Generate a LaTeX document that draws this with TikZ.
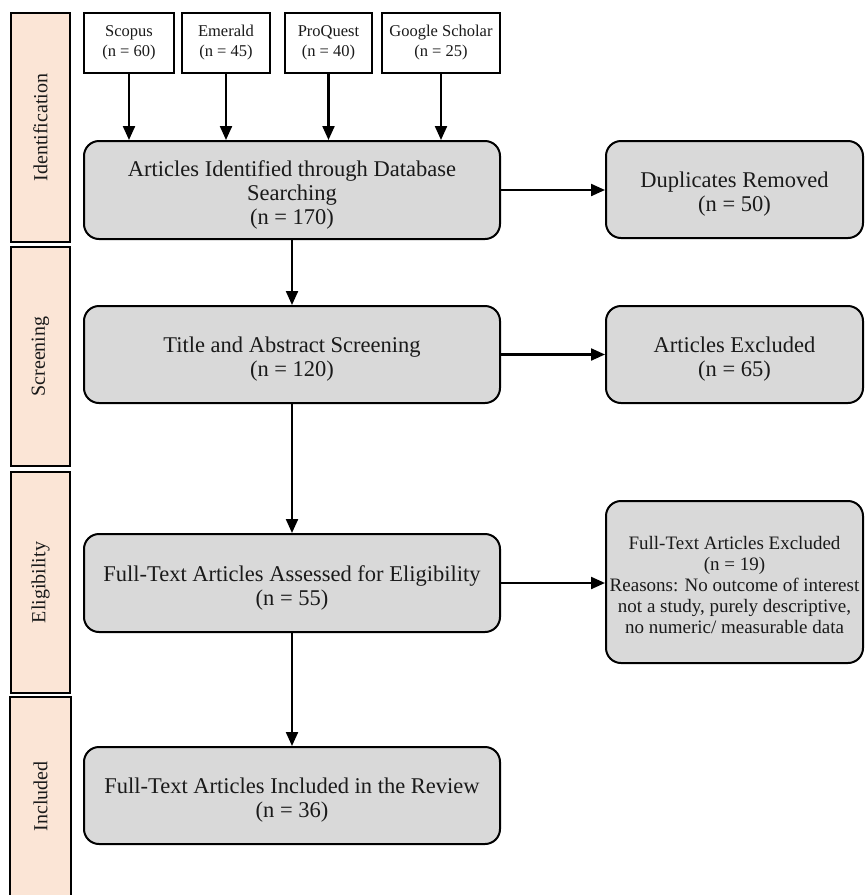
\documentclass[tikz,border=0pt]{standalone}
\usepackage{fontspec}
\setmainfont{Liberation Serif}
\usetikzlibrary{arrows.meta}
\definecolor{phasefill}{HTML}{FBE5D6}
\definecolor{boxfill}{HTML}{D9D9D9}
\definecolor{txt}{HTML}{1A1A1A}
\newcommand{\topstrut}[1]{\rule{0pt}{#1}}
\begin{document}
\begin{tikzpicture}[x=1pt,y=-1pt,
  phase/.style={draw, line width=2pt, fill=phasefill, rotate=90, minimum height=59pt, inner sep=0pt, text=txt, font=\fontsize{20}{24}\selectfont},
  src/.style={draw, line width=2pt, fill=white, inner sep=0pt, minimum height=60pt, align=center, text=txt, font=\fontsize{16.5}{20}\selectfont},
  stage/.style={draw, line width=2pt, fill=boxfill, rounded corners=15pt, inner sep=0pt, minimum width=416pt, align=center, text=txt, font=\fontsize{22.5}{24}\selectfont},
  side/.style={stage, minimum width=257pt},
  arr/.style={line width=2.2pt, -{Triangle[length=14pt,width=12pt]}}]
\useasboundingbox (0,0) rectangle (865,895);

% phase bars
\node[phase, minimum width=229pt] (pid) at (40.5,127.5) {Identification};
\node[phase, minimum width=219pt] (psc) at (40.5,356.5) {Screening};
\node[phase, minimum width=221pt] (pel) at (40.5,582.5) {Eligibility};
\node[phase, draw=none, minimum width=197pt] (pin) at (40.5,796.5) {Included};
\draw[line width=2pt] (pin.north west) -- (pin.north east) -- (pin.south east) -- (pin.south west);

% sources
\node[src, minimum width=90pt] (s1) at (129,43) {Scopus\\(n = 60)};
\node[src, minimum width=88pt] (s2) at (226,43) {Emerald\\(n = 45)};
\node[src, minimum width=87pt] (s3) at (328.5,43) {ProQuest\\(n = 40)};
\node[src, minimum width=118pt] (s4) at (441,43) {Google Scholar\\(n = 25)};

% main boxes
\node[stage, minimum height=98pt] (b1) at (292,190) {\topstrut{25pt}Articles Identified through Database\\Searching\\(n = 170)};
\node[stage, minimum height=97pt] (b2) at (292,354.5) {\topstrut{25pt}Title and Abstract Screening\\(n = 120)};
\node[stage, minimum height=98pt] (b3) at (292,583) {\topstrut{25pt}Full-Text Articles Assessed for Eligibility\\(n = 55)};
\node[stage, minimum height=97pt] (b4) at (292,795.5) {\topstrut{25pt}Full-Text Articles Included in the Review\\(n = 36)};

% side boxes
\node[side, minimum height=97pt] (r1) at (734.5,189.5) {\topstrut{25pt}Duplicates Removed\\(n = 50)};
\node[side, minimum height=97pt] (r2) at (734.5,354.5) {\topstrut{25pt}Articles Excluded\\(n = 65)};
\node[side, minimum height=162pt, font=\fontsize{19}{20.8}\selectfont] (r3) at (734.5,582) {\topstrut{19pt}Full-Text Articles Excluded\\(n = 19)\\Reasons: No outcome of interest\\not a study, purely descriptive,\\no numeric/ measurable data};

% arrows
\foreach \s in {s1,s2,s3,s4} {\draw[arr] (\s.south) -- (\s.south |- b1.north);}
\draw[arr] (b1) -- (b2);
\draw[arr] (b2) -- (b3);
\draw[arr] (b3) -- (b4);
\draw[arr] (b1.east) -- (b1.east -| r1.west);
\draw[arr] (b2.east) -- (b2.east -| r2.west);
\draw[arr] (b3.east) -- (b3.east -| r3.west);
\end{tikzpicture}
\end{document}
